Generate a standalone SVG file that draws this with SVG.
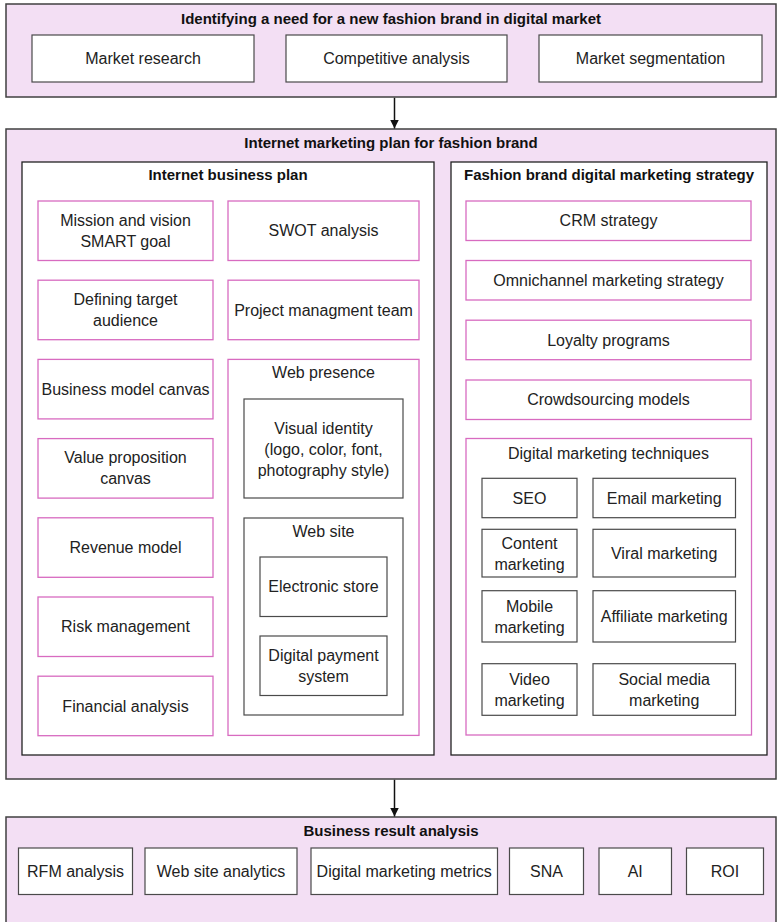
<svg xmlns="http://www.w3.org/2000/svg" width="778" height="922" viewBox="0 0 778 922">
<style>
.outer{fill:#F3DFF4;stroke:#404040;stroke-width:1.5}
.panel{fill:#fff;stroke:#222;stroke-width:1.3}
.pink{fill:#fff;stroke:#D86BC0;stroke-width:1.3}
.gray{fill:#fff;stroke:#4a4a4a;stroke-width:1.2}
.t{font-family:"Liberation Sans",Arial,sans-serif;font-size:16px;fill:#222;text-anchor:middle}
.b{font-family:"Liberation Sans",Arial,sans-serif;font-size:15px;font-weight:bold;fill:#111;text-anchor:middle}
.conn{stroke:#111;stroke-width:1.5;fill:none}
</style>
<defs>
<marker id="ah" viewBox="0 0 10 10" refX="10" refY="5" markerWidth="9" markerHeight="10" markerUnits="userSpaceOnUse" orient="auto">
<path d="M0,0 L10,5 L0,10 Z" fill="#111"/>
</marker>
</defs>

<!-- Stage 1 -->
<g id="stage1">
<rect class="outer" x="6" y="4" width="770" height="93"/>
<text class="b" x="391" y="24">Identifying a need for a new fashion brand in digital market</text>
</g>
<g id="market-research"><rect class="gray" x="32" y="35" width="222" height="47"/><text class="t" x="143" y="64">Market research</text></g>
<g id="competitive-analysis"><rect class="gray" x="286" y="35" width="221" height="47"/><text class="t" x="396.5" y="64">Competitive analysis</text></g>
<g id="market-segmentation"><rect class="gray" x="539" y="35" width="223" height="47"/><text class="t" x="650.5" y="64">Market segmentation</text></g>

<!-- Stage 2 -->
<g id="stage2">
<rect class="outer" x="6" y="129" width="770" height="650"/>
<text class="b" x="391" y="148">Internet marketing plan for fashion brand</text>
</g>

<g id="business-plan">
<rect class="panel" x="22" y="162" width="412" height="593"/>
<text class="b" x="228" y="180">Internet business plan</text>
</g>
<g id="mission"><rect class="pink" x="38" y="201" width="175" height="59.5"/><text class="t" x="125.5" y="225.5">Mission and vision</text><text class="t" x="125.5" y="246.5">SMART goal</text></g>
<g id="target-audience"><rect class="pink" x="38" y="280.2" width="175" height="59.5"/><text class="t" x="125.5" y="304.8">Defining target</text><text class="t" x="125.5" y="325.8">audience</text></g>
<g id="business-model-canvas"><rect class="pink" x="38" y="359.4" width="175" height="59.5"/><text class="t" x="125.5" y="394.7">Business model canvas</text></g>
<g id="value-proposition"><rect class="pink" x="38" y="438.6" width="175" height="59.5"/><text class="t" x="125.5" y="463.4">Value proposition</text><text class="t" x="125.5" y="484.4">canvas</text></g>
<g id="revenue-model"><rect class="pink" x="38" y="517.8" width="175" height="59.5"/><text class="t" x="125.5" y="553">Revenue model</text></g>
<g id="risk-management"><rect class="pink" x="38" y="597" width="175" height="59.5"/><text class="t" x="125.5" y="632.3">Risk management</text></g>
<g id="financial-analysis"><rect class="pink" x="38" y="676.2" width="175" height="59.5"/><text class="t" x="125.5" y="711.5">Financial analysis</text></g>

<g id="swot"><rect class="pink" x="228" y="201" width="191" height="59.5"/><text class="t" x="323.5" y="236">SWOT analysis</text></g>
<g id="project-team"><rect class="pink" x="228" y="280.2" width="191" height="59.5"/><text class="t" x="323.5" y="315.5">Project managment team</text></g>
<g id="web-presence"><rect class="pink" x="228" y="359.4" width="191" height="376"/><text class="t" x="323.5" y="378">Web presence</text></g>
<g id="visual-identity"><rect class="gray" x="244" y="399" width="159" height="99"/><text class="t" x="323.5" y="434">Visual identity</text><text class="t" x="323.5" y="455">(logo, color, font,</text><text class="t" x="323.5" y="476">photography style)</text></g>
<g id="web-site"><rect class="gray" x="244" y="518" width="159" height="197"/><text class="t" x="323.5" y="537">Web site</text></g>
<g id="electronic-store"><rect class="gray" x="260" y="557" width="127" height="59.5"/><text class="t" x="323.5" y="592">Electronic store</text></g>
<g id="digital-payment"><rect class="gray" x="260" y="636" width="127" height="59.5"/><text class="t" x="323.5" y="661">Digital payment</text><text class="t" x="323.5" y="682">system</text></g>

<g id="digital-strategy">
<rect class="panel" x="451" y="162" width="316" height="593"/>
<text class="b" x="609" y="180">Fashion brand digital marketing strategy</text>
</g>
<g id="crm"><rect class="pink" x="466" y="201" width="285" height="39.5"/><text class="t" x="608.5" y="226">CRM strategy</text></g>
<g id="omnichannel"><rect class="pink" x="466" y="260.5" width="285" height="39.5"/><text class="t" x="608.5" y="285.7">Omnichannel marketing strategy</text></g>
<g id="loyalty"><rect class="pink" x="466" y="320.2" width="285" height="39.5"/><text class="t" x="608.5" y="345.5">Loyalty programs</text></g>
<g id="crowdsourcing"><rect class="pink" x="466" y="380" width="285" height="39.5"/><text class="t" x="608.5" y="405.2">Crowdsourcing models</text></g>
<g id="techniques"><rect class="pink" x="466" y="438.5" width="285.5" height="296.5"/><text class="t" x="608.5" y="458.5">Digital marketing techniques</text></g>
<g id="seo"><rect class="gray" x="482" y="478.3" width="95" height="39.4"/><text class="t" x="529.5" y="503.5">SEO</text></g>
<g id="email"><rect class="gray" x="593" y="478.3" width="142.5" height="39.4"/><text class="t" x="664.2" y="503.5">Email marketing</text></g>
<g id="content"><rect class="gray" x="482" y="529.3" width="95" height="47.7"/><text class="t" x="529.5" y="548.5">Content</text><text class="t" x="529.5" y="569.5">marketing</text></g>
<g id="viral"><rect class="gray" x="593" y="529.3" width="142.5" height="47.7"/><text class="t" x="664.2" y="558.8">Viral marketing</text></g>
<g id="mobile"><rect class="gray" x="482" y="590.7" width="95" height="51.3"/><text class="t" x="529.5" y="611.5">Mobile</text><text class="t" x="529.5" y="632.5">marketing</text></g>
<g id="affiliate"><rect class="gray" x="593" y="590.7" width="142.5" height="51.3"/><text class="t" x="664.2" y="622">Affiliate marketing</text></g>
<g id="video"><rect class="gray" x="482" y="663.7" width="95" height="51.6"/><text class="t" x="529.5" y="684.5">Video</text><text class="t" x="529.5" y="705.5">marketing</text></g>
<g id="social"><rect class="gray" x="593" y="663.7" width="142.5" height="51.6"/><text class="t" x="664.2" y="684.5">Social media</text><text class="t" x="664.2" y="705.5">marketing</text></g>

<!-- Stage 3 -->
<g id="stage3">
<rect class="outer" x="6" y="817" width="770" height="120"/>
<text class="b" x="391" y="836">Business result analysis</text>
</g>
<g id="rfm"><rect class="gray" x="18.5" y="848" width="114" height="46.5"/><text class="t" x="75.5" y="876.5">RFM analysis</text></g>
<g id="web-analytics"><rect class="gray" x="145" y="848" width="152" height="46.5"/><text class="t" x="221" y="876.5">Web site analytics</text></g>
<g id="dm-metrics"><rect class="gray" x="311" y="848" width="186.5" height="46.5"/><text class="t" x="404.2" y="876.5">Digital marketing metrics</text></g>
<g id="sna"><rect class="gray" x="509.5" y="848" width="74" height="46.5"/><text class="t" x="546.5" y="876.5">SNA</text></g>
<g id="ai"><rect class="gray" x="599" y="848" width="72.5" height="46.5"/><text class="t" x="635.2" y="876.5">AI</text></g>
<g id="roi"><rect class="gray" x="686.5" y="848" width="77" height="46.5"/><text class="t" x="725" y="876.5">ROI</text></g>

<g id="connectors">
<line class="conn" x1="394.5" y1="97.8" x2="394.5" y2="128.5" marker-end="url(#ah)"/>
<line class="conn" x1="394.5" y1="779.8" x2="394.5" y2="816.5" marker-end="url(#ah)"/>
</g>
</svg>
